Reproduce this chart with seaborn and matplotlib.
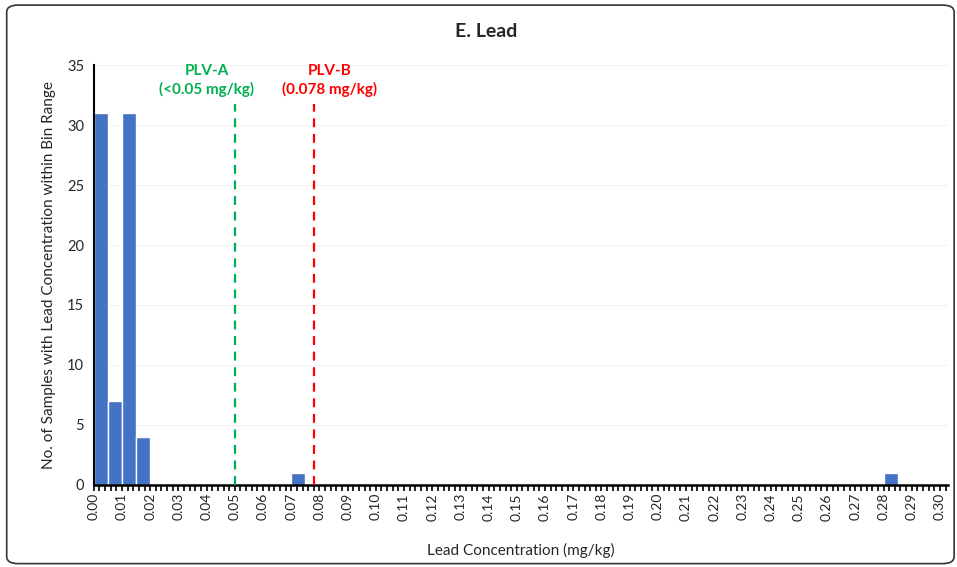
import matplotlib.pyplot as plt
import matplotlib.ticker as mticker
from matplotlib.patches import FancyBboxPatch
import seaborn as sns
import pandas as pd

sns.set_style('white')
plt.rcParams['font.family'] = ['Lato', 'DejaVu Sans']

# bin start (mg/kg) and number of samples in each 0.005 bin
bin_start = [0.000, 0.005, 0.010, 0.015, 0.070, 0.280]
counts = [31, 7, 31, 4, 1, 1]
bin_width = 0.005

plv_a = 0.05
plv_b = 0.078

df = pd.DataFrame({'conc': [b + bin_width / 2 for b in bin_start], 'n': counts})

fig = plt.figure(figsize=(9.57, 5.67), dpi=100)
ax = fig.add_axes([0.098, 0.145, 0.893, 0.74])

for y in range(5, 36, 5):
    ax.axhline(y, color='#f2f2f2', lw=0.8, zorder=0)

sns.histplot(data=df, x='conc', weights='n', binwidth=bin_width, binrange=(0, 0.285),
             color='#4472C4', alpha=1, edgecolor='white', linewidth=1, ax=ax, zorder=2)

ax.axvline(plv_a, ymax=31.8 / 35, color='#00B050', ls=(0, (4, 3)), lw=1.6, zorder=3)
ax.axvline(plv_b, ymax=31.8 / 35, color='#FF0000', ls=(0, (4, 3)), lw=1.6, zorder=3)
ax.text(0.040, 33.7, 'PLV-A\n(<0.05 mg/kg)', color='#00B050', ha='center', va='center',
        fontsize=11, fontweight='bold', linespacing=1.3)
ax.text(0.0837, 33.7, 'PLV-B\n(0.078 mg/kg)', color='#FF0000', ha='center', va='center',
        fontsize=11, fontweight='bold', linespacing=1.3)

ax.set_xlim(0, 0.303)
ax.set_ylim(0, 35)
ax.xaxis.set_major_locator(mticker.MultipleLocator(0.01))
ax.xaxis.set_minor_locator(mticker.MultipleLocator(0.002))
ax.xaxis.set_major_formatter(mticker.FormatStrFormatter('%.2f'))
ax.yaxis.set_major_locator(mticker.MultipleLocator(5))
ax.tick_params(axis='x', which='major', direction='out', length=4, width=1.2, labelrotation=90,
               labelsize=10, bottom=True, color='black', pad=2)
ax.tick_params(axis='x', which='minor', direction='out', length=4, width=1.2, bottom=True, color='black')
ax.tick_params(axis='y', labelsize=10.5, left=False)

for s in ['top', 'right']:
    ax.spines[s].set_visible(False)
ax.spines['left'].set_color('black')
ax.spines['bottom'].set_color('black')
ax.spines['left'].set_linewidth(1.5)
ax.spines['bottom'].set_linewidth(1.8)

ax.set_xlabel('Lead Concentration (mg/kg)', fontsize=11, labelpad=16)
ax.set_ylabel('No. of Samples with Lead Concentration within Bin Range', fontsize=11, labelpad=8)
fig.text(0.508, 0.945, 'E. Lead', ha='center', va='center', fontsize=14, fontweight='bold')

frame = FancyBboxPatch((0.007, 0.006), 0.99, 0.985, boxstyle='round,pad=0,rounding_size=0.012',
                       transform=fig.transFigure, fill=False, edgecolor='#333333', lw=1.2)
fig.patches.append(frame)

fig.savefig('out.png', dpi=100)
